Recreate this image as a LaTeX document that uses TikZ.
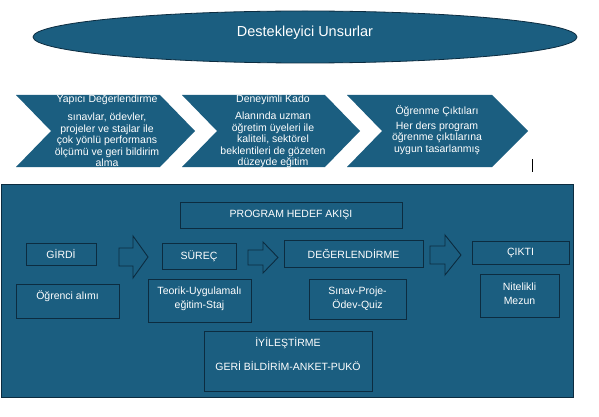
\documentclass[tikz,border=0pt]{standalone}
\usepackage{fontspec}
\setmainfont{Liberation Sans}
\usetikzlibrary{shapes.geometric}
\definecolor{tealblue}{RGB}{27,94,128}
\definecolor{darkline}{RGB}{12,44,64}
\begin{document}
\begin{tikzpicture}[x=1pt,y=-1pt,
  wtext/.style={text=white,font=\fontsize{10.5}{11.6}\selectfont,align=center,inner sep=0pt},
  btext/.style={text=white,font=\fontsize{10.5}{14}\selectfont,align=center,inner sep=0pt},
  chev/.style={fill=tealblue},
  boxnode/.style={draw=darkline,line width=0.9pt,fill=tealblue,inner sep=0pt,text=white,font=\fontsize{10.5}{14}\selectfont,align=center},
  blockarrow/.style={draw=darkline,line width=0.9pt,fill=tealblue,line join=miter}
]
\useasboundingbox (0,0) rectangle (599,417);
\fill[white] (0,0) rectangle (599,417);

% ellipse
\node[ellipse,draw=darkline,line width=0.8pt,fill=tealblue,minimum width=544pt,minimum height=52pt,inner sep=0pt] (ell) at (305,37) {};
\node[text=white,font=\fontsize{14.5}{16}\selectfont,inner sep=0pt] (elltext) at (305,33) {Destekleyici Unsurlar};

% chevrons
\fill[chev] (16,95) -- (160,95) -- (195,131) -- (160,167) -- (16,167) -- (51,131) -- cycle;
\fill[chev] (182,95) -- (325,95) -- (360,131) -- (325,167) -- (182,167) -- (217,131) -- cycle;
\fill[chev] (347,95) -- (492,95) -- (528,131) -- (492,167) -- (347,167) -- (382,131) -- cycle;

\node[wtext] (c1t) at (107,100) {Yapıcı Değerlendirme};
\node[wtext] (c1b) at (107,140) {sınavlar, ödevler,\\projeler ve stajlar ile\\çok yönlü performans\\ölçümü ve geri bildirim\\alma};
\node[wtext] (c2t) at (273,100) {Deneyimli Kado};
\node[wtext] (c2b) at (273,140) {Alanında uzman\\öğretim üyeleri ile\\kaliteli, sektörel\\beklentileri de gözeten\\düzeyde eğitim};
\node[wtext] (c3t) at (437,111) {Öğrenme Çıktıları};
\node[wtext] (c3b) at (437,138) {Her ders program\\öğrenme çıktılarına\\uygun tasarlanmış};

% cursor mark
\coordinate (cur1) at (532,159);
\coordinate (cur2) at (532,172);
\draw[black,line width=0.8pt] (cur1) -- (cur2);

% panel
\node[draw=darkline,line width=1pt,fill=tealblue,minimum width=572pt,minimum height=213pt,inner sep=0pt] (panel) at (287,290.5) {};

% boxes
\node[boxnode,minimum width=222pt,minimum height=26pt] (prog) at (291,215) {PROGRAM HEDEF AKIŞI};
\node[boxnode,minimum width=70pt,minimum height=22pt] (girdi) at (61,254) {GİRDİ};
\node[boxnode,minimum width=74pt,minimum height=26pt] (surec) at (199,256) {SÜREÇ};
\node[boxnode,minimum width=139pt,minimum height=27pt] (deger) at (353.5,253.5) {DEĞERLENDİRME};
\node[boxnode,minimum width=97pt,minimum height=23pt] (cikti) at (520.5,252.5) {ÇIKTI};

\node[boxnode,minimum width=103pt,minimum height=34pt] (ogr) at (67.5,301) {};
\node[btext] (ogrt) at (67.5,296) {Öğrenci alımı};
\node[boxnode,minimum width=103pt,minimum height=43pt] (teorik) at (199.5,300.5) {};
\node[btext] (teorikt) at (199.5,299) {Teorik-Uygulamalı\\eğitim-Staj};
\node[boxnode,minimum width=97pt,minimum height=40pt] (sinav) at (357.5,299) {};
\node[btext] (sinavt) at (357.5,298.5) {Sınav-Proje-\\Ödev-Quiz};
\node[boxnode,minimum width=79pt,minimum height=43pt] (nit) at (519.5,295.5) {};
\node[btext] (nitt) at (519.5,294) {Nitelikli\\Mezun};
\node[boxnode,minimum width=168pt,minimum height=60pt] (iyi) at (288,361) {};
\node[text=white,font=\fontsize{10.5}{24}\selectfont,align=center,inner sep=0pt] (iyit) at (288,354) {İYİLEŞTİRME\\GERİ BİLDİRİM-ANKET-PUKÖ};

% block arrows
\draw[blockarrow] (119,248) -- (133,248) -- (133,236) -- (148,257) -- (133,278) -- (133,266) -- (119,266) -- cycle;
\draw[blockarrow] (248,250) -- (263,250) -- (263,242) -- (278,257.5) -- (263,273) -- (263,265) -- (248,265) -- cycle;
\draw[blockarrow] (430,246) -- (445,246) -- (445,235) -- (461,255) -- (445,275) -- (445,264) -- (430,264) -- cycle;
\end{tikzpicture}
\end{document}
